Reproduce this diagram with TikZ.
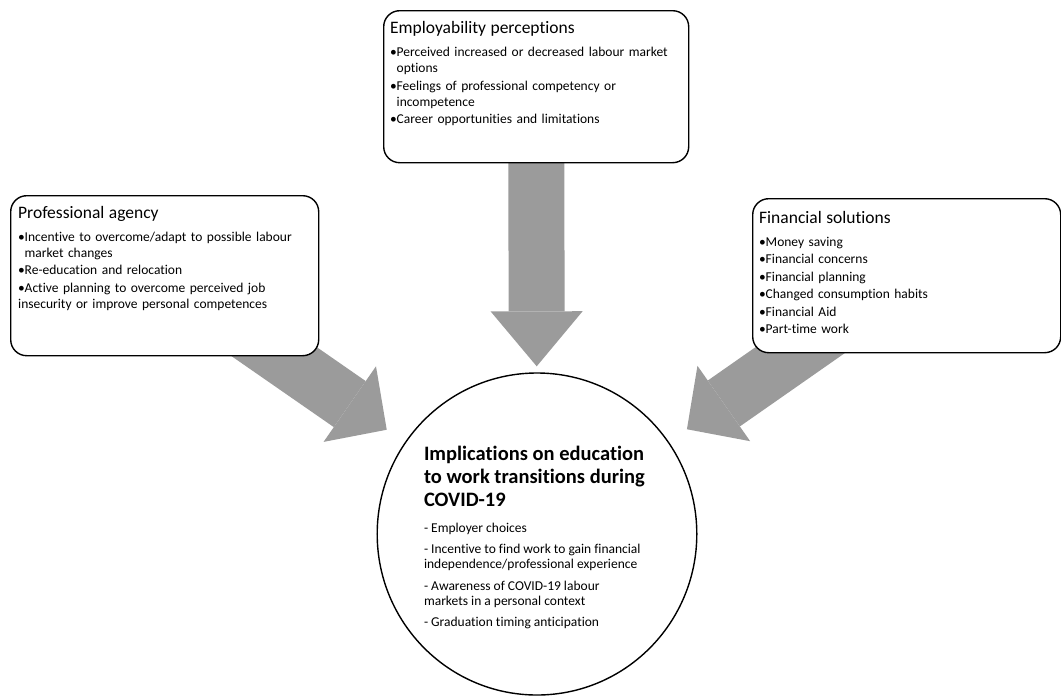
\documentclass[tikz,border=0pt]{standalone}
\usepackage{fontspec}
\setmainfont{Carlito}[Ligatures=CommonOff]
\usetikzlibrary{arrows.meta, shapes.geometric, backgrounds}

\definecolor{arrowgray}{RGB}{155,155,155}

% one bullet line with hanging indent
\newcommand{\boxitem}[1]{\par\hangindent=6.5pt\hangafter=1\noindent\makebox[6.5pt][l]{\textbullet}#1}
% heading of a box
\newcommand{\boxhead}[1]{{\fontsize{17.5}{20}\selectfont #1\par}\vspace{5.5pt}\setlength{\parskip}{1.5pt}}

\begin{document}
\begin{tikzpicture} [x=1pt, y=-1pt,
            theme/.style = {draw=black, line width=1.4pt, rounded corners=16pt,
                fill=white, inner sep=0pt, anchor=north west},
            themetext/.style = {anchor=north west, inner sep=0pt, text width=300pt,
                align=left, font=\fontsize{13.5}{16}\selectfont},
            blockarrow/.style = {draw=arrowgray, line width=56pt,
                -{Triangle[width=92pt, length=#1, line width=0pt]}}]

        \useasboundingbox (0,0) rectangle (1061,697);

        % Employability perceptions
        \node (emp) [theme,
            minimum width=305pt,
            minimum height=152pt] at (383,10) {};
        \node (emp-text) [themetext] at ([shift={(7,11.5)}]emp.north west)
            {\boxhead{Employability perceptions}
            \boxitem{Perceived increased or decreased labour market\newline options}
            \boxitem{Feelings of professional competency or\newline incompetence}
            \boxitem{Career opportunities and limitations}};

        % Professional agency
        \node (agency) [theme,
            minimum width=308pt,
            minimum height=160pt] at (10,195) {};
        \node (agency-text) [themetext] at ([shift={(8,11)}]agency.north west)
            {\boxhead{Professional agency}
            \boxitem{Incentive to overcome/adapt to possible labour\newline market changes}
            \boxitem{Re-education and relocation}
            \boxitem{Active planning to overcome perceived job\newline insecurity or improve personal competences}};

        % Financial solutions
        \node (fin) [theme,
            minimum width=308pt,
            minimum height=154pt] at (752,198) {};
        \node (fin-text) [themetext] at ([shift={(7,13)}]fin.north west)
            {\boxhead{Financial solutions}
            \boxitem{Money saving}
            \boxitem{Financial concerns}
            \boxitem{Financial planning}
            \boxitem{Changed consumption habits}
            \boxitem{Financial Aid}
            \boxitem{Part-time work}};

        % Implications
        \node (impl) [ellipse,
            draw=black,
            line width=1.4pt,
            fill=white,
            inner sep=0pt,
            minimum width=314pt,
            minimum height=322pt] at (537,534)
            {\parbox{226pt}{\raggedright\vspace*{7pt}
            {\fontsize{20.5}{23}\bfseries\selectfont Implications on education\newline
            to work transitions during\newline COVID-19\par}\vspace{4pt}
            \fontsize{13.5}{15}\selectfont\setlength{\parskip}{6.5pt}
            - Employer choices\par
            - Incentive to find work to gain financial\newline independence/professional experience\par
            - Awareness of COVID-19 labour\newline markets in a personal context\par
            - Graduation timing anticipation}};

        % Arrows
        \begin{scope}[on background layer]
            \draw [blockarrow=55pt, shorten >=6pt] (emp.center) -- (impl);
            \draw [blockarrow=45pt, shorten >=22pt] (agency.center) -- (impl);
            \draw [blockarrow=45pt, shorten >=22pt] (fin.center) -- (impl);
        \end{scope}
\end{tikzpicture}
\end{document}
